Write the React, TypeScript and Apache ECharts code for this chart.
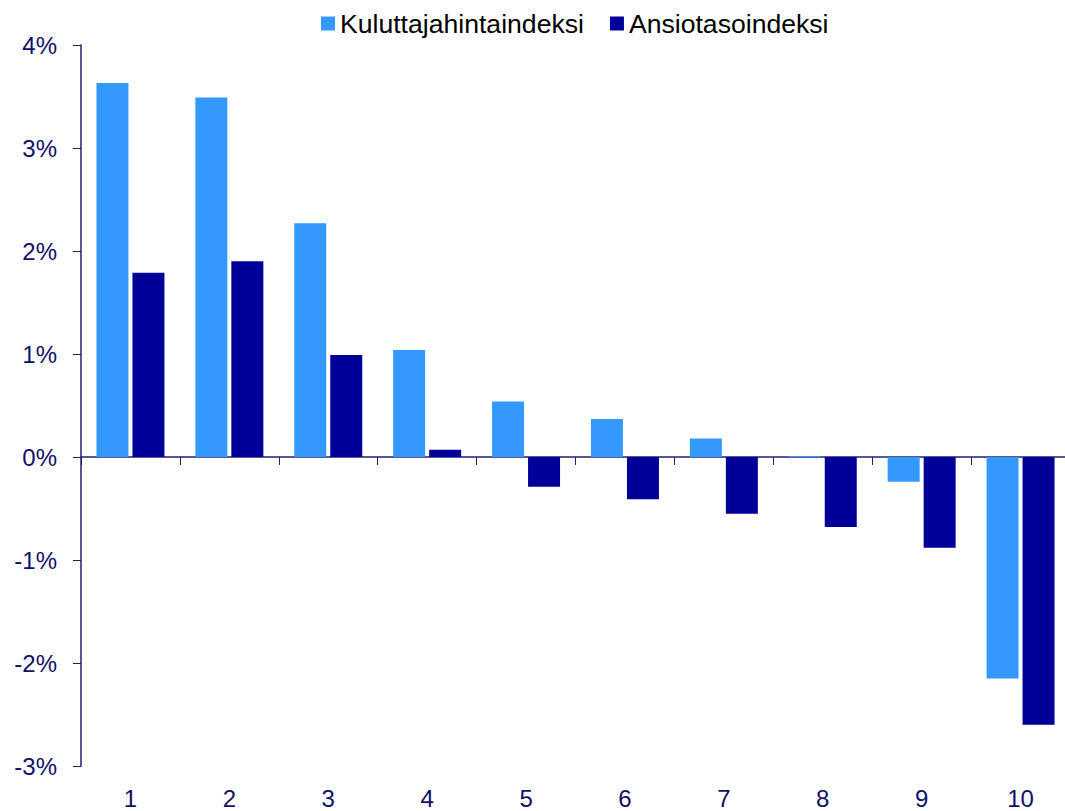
import React, { useEffect, useRef } from "react";
import * as echarts from "echarts";

const categories = ["1", "2", "3", "4", "5", "6", "7", "8", "9", "10"];
const kuluttajahintaindeksi = [3.63, 3.49, 2.27, 1.04, 0.54, 0.37, 0.18, 0.01, -0.24, -2.15];
const ansiotasoindeksi = [1.79, 1.9, 0.99, 0.07, -0.29, -0.41, -0.55, -0.68, -0.88, -2.6];
const seriesNames = ["Kuluttajahintaindeksi", "Ansiotasoindeksi"];

const FONT = "'Liberation Sans', Arial, sans-serif";
const NAVY = "#101066";
const AXIS = "#1f1f70";

export default function App() {
  const ref = useRef<HTMLDivElement>(null);
  useEffect(() => {
    if (!ref.current) return;
    const chart = echarts.init(ref.current, null, { renderer: "svg" });
    chart.setOption({
      animation: false,
      backgroundColor: "#ffffff",
      legend: {
        top: 5,
        left: 316,
        itemWidth: 14,
        itemHeight: 14,
        itemGap: 26,
        icon: "rect",
        data: seriesNames,
        textStyle: { fontFamily: FONT, fontSize: 26.6, color: "#000000" },
      },
      grid: { left: 81, width: 989, top: 45, bottom: 45, containLabel: false },
      xAxis: [
        {
          type: "category",
          data: categories,
          position: "bottom",
          axisLine: { onZero: true, lineStyle: { color: AXIS, width: 1.5 } },
          axisTick: { show: true, length: 8, lineStyle: { color: AXIS } },
          axisLabel: { show: false },
        },
        {
          type: "category",
          data: categories,
          position: "bottom",
          axisLine: { show: false, onZero: false },
          axisTick: { show: false },
          axisLabel: { show: true, margin: 20, fontFamily: FONT, fontSize: 24, color: NAVY },
        },
      ],
      yAxis: {
        type: "value",
        min: -3,
        max: 4,
        interval: 1,
        splitLine: { show: false },
        axisLine: { show: true, lineStyle: { color: AXIS, width: 1.5 } },
        axisTick: { show: true, length: 8, inside: false, lineStyle: { color: AXIS } },
        axisLabel: {
          margin: 24,
          fontFamily: FONT,
          fontSize: 24,
          color: NAVY,
          formatter: (v: number) => `${v}%`,
        },
      },
      series: [
        {
          name: seriesNames[0],
          type: "bar",
          xAxisIndex: 0,
          data: kuluttajahintaindeksi,
          barWidth: 32,
          barGap: "12.5%",
          itemStyle: { color: "#3399ff" },
        },
        {
          name: seriesNames[1],
          type: "bar",
          xAxisIndex: 0,
          data: ansiotasoindeksi,
          barWidth: 32,
          barGap: "12.5%",
          itemStyle: { color: "#000099" },
        },
      ],
    });
    return () => chart.dispose();
  }, []);
  return (
    <div style={{ width: 1065, height: 811, position: "absolute", left: 0, top: 0, overflow: "hidden" }}>
      <div ref={ref} style={{ width: 1075, height: 811, position: "absolute", left: 0, top: 0 }} />
    </div>
  );
}
